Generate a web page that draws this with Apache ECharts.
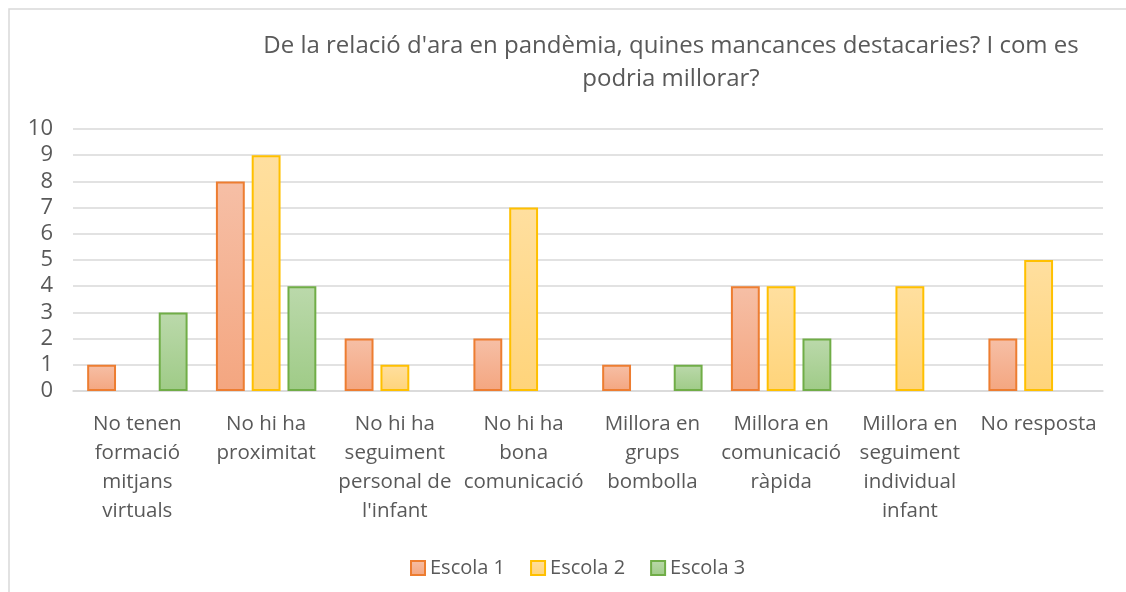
<!DOCTYPE html>
<html>
<head>
<meta charset="utf-8">
<script src="https://cdn.jsdelivr.net/npm/echarts@6/dist/echarts.min.js"></script>
<style>html,body{margin:0;padding:0;background:#fff}#c{width:1126px;height:592px}</style>
</head>
<body>
<div id="c"></div>
<script>
const titleText = "De la relació d'ara en pandèmia, quines mancances destacaries? I com es\npodria millorar?";
const categories = [
  "No tenen\nformació\nmitjans\nvirtuals",
  "No hi ha\nproximitat",
  "No hi ha\nseguiment\npersonal de\nl'infant",
  "No hi ha\nbona\ncomunicació",
  "Millora en\ngrups\nbombolla",
  "Millora en\ncomunicació\nràpida",
  "Millora en\nseguiment\nindividual\ninfant",
  "No resposta"
];
const seriesNames = ["Escola 1", "Escola 2", "Escola 3"];
const escola1 = [1, 8, 2, 2, 1, 4, null, 2];
const escola2 = [null, 9, 1, 7, null, 4, 4, 5];
const escola3 = [3, 4, null, null, 1, 2, null, null];
const yTicks = [0, 10, 1];

const styles = [
  {top: '#F6BFA6', bottom: '#F4A680', border: '#ED7D31'},
  {top: '#FFDF9F', bottom: '#FFD47A', border: '#FFC000'},
  {top: '#BBD9AB', bottom: '#9FCB87', border: '#70AD47'}
];
const font = '"Open Sans", sans-serif';
const gray = '#595959';

function mk(i, data) {
  const s = styles[i];
  return {
    name: seriesNames[i], type: 'bar', data: data,
    barGap: '24%', barCategoryGap: '22%',
    itemStyle: {
      color: new echarts.graphic.LinearGradient(0, 0, 0, 1, [
        {offset: 0, color: s.top}, {offset: 1, color: s.bottom}
      ]),
      borderColor: s.border, borderWidth: 2
    }
  };
}

const chart = echarts.init(document.getElementById('c'), null, {renderer: 'canvas'});
chart.setOption({
  animation: false,
  graphic: [{
    type: 'rect', shape: {x: 9, y: 9, width: 1130, height: 600},
    style: {fill: 'none', stroke: '#d9d9d9', lineWidth: 1.5}, z: -1
  }],
  title: {
    text: titleText, left: 671, top: 30, textAlign: 'center', padding: 0,
    textStyle: {fontFamily: font, fontSize: 24, fontWeight: 'normal', color: gray, lineHeight: 33}
  },
  legend: {
    data: seriesNames, left: 405, top: 553, itemWidth: 14, itemHeight: 14, itemGap: 25,
    icon: 'rect',
    textStyle: {fontFamily: font, fontSize: 20, color: gray}
  },
  grid: {left: 73, right: 23, top: 129, bottom: 201, containLabel: false},
  xAxis: {
    type: 'category', data: categories,
    axisLine: {lineStyle: {color: '#d9d9d9', width: 1.5}},
    axisTick: {show: false},
    axisLabel: {interval: 0, margin: 19, fontFamily: font, fontSize: 20.5, color: gray, lineHeight: 29, align: 'center'}
  },
  yAxis: {
    type: 'value', min: yTicks[0], max: yTicks[1], interval: yTicks[2],
    axisLine: {show: false}, axisTick: {show: false},
    splitLine: {lineStyle: {color: '#d9d9d9', width: 1.5}},
    axisLabel: {margin: 20, fontFamily: font, fontSize: 22, color: gray}
  },
  series: [mk(0, escola1), mk(1, escola2), mk(2, escola3)]
});
</script>
</body>
</html>
